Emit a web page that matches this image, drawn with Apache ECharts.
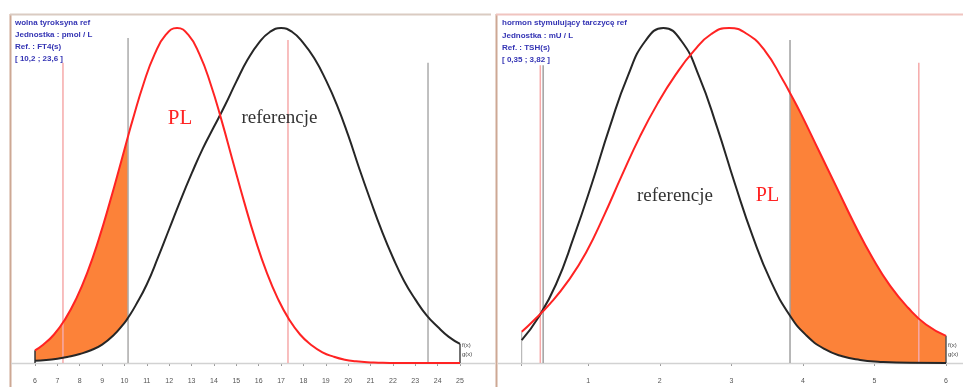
<!DOCTYPE html>
<html><head><meta charset="utf-8">
<script src="https://cdn.jsdelivr.net/npm/echarts@6/dist/echarts.min.js"></script>
<style>html,body{margin:0;padding:0;background:#fff}#c{width:963px;height:387px}</style>
</head><body><div id="c"></div>
<script>
// ---------- left panel: wolna tyroksyna (fT4) ----------
const fT4RefX = [6, 6.5, 7, 7.5, 8, 8.5, 9, 9.5, 10, 10.16, 10.5, 11, 11.5, 12, 12.5, 13, 13.5, 14, 14.5, 15, 15.5, 16, 16.5, 17, 17.5, 18, 18.5, 19, 19.5, 20, 20.5, 21, 21.5, 22, 22.5, 23, 23.5, 24, 24.5, 25];
const fT4Ref  = [0.7, 0.9, 1.3, 1.9, 2.7, 3.8, 5.5, 8.2, 12.0, 13.5, 17.2, 23.5, 31.5, 40, 48.5, 56.5, 64, 70.5, 77, 84, 90.5, 95.5, 98.8, 100, 98.8, 95.5, 90.8, 84.5, 77, 68, 58, 48.5, 39.5, 31.5, 24.5, 19, 14.3, 10.8, 7.8, 5.7];
const fT4PLX  = [6, 6.35, 6.85, 7.35, 7.85, 8.35, 8.85, 9.35, 9.85, 10.16, 10.35, 10.85, 11.35, 11.85, 12.35, 12.85, 13.35, 13.85, 14.35, 14.85, 15.35, 15.85, 16.35, 16.85, 17.35, 17.85, 18.35, 18.85, 19.35, 19.85, 20.35, 20.85, 21.35, 21.85, 22.35, 23.5, 25];
const fT4PL   = [3.8, 5.4, 8.5, 13.1, 19.3, 27.2, 36.9, 48.1, 60.1, 67.7, 72.2, 83.3, 92.2, 98.0, 100, 98.0, 92.2, 83.3, 72.2, 60.1, 48.1, 36.9, 27.2, 19.3, 13.1, 8.5, 5.4, 3.2, 1.9, 1.0, 0.5, 0.2, 0.1, 0, 0, 0, 0];
const fT4Range = [6, 25];
const fT4RefLimits = [10.16, 23.57];
const fT4RefLimitTops = [97, 89.6];
const fT4PLLimits = [7.25, 17.31];
const fT4PLLimitTops = [89.6, 96.4];
const fT4ShadeTo = 10.16;
const fT4Info = ['wolna tyroksyna ref', 'Jednostka : pmol / L', 'Ref. : FT4(s)', '[ 10,2 ; 23,6 ]'];

// ---------- right panel: TSH ----------
const tshRefX = [0.07, 0.3, 0.55, 0.8, 1.05, 1.3, 1.55, 1.8, 2.05, 2.3, 2.55, 2.8, 3.05, 3.3, 3.55, 3.82, 4.05, 4.3, 4.55, 4.8, 5.05, 5.5, 6];
const tshRef  = [6.8, 13.5, 23.5, 37.7, 53.5, 70.4, 85.5, 96.2, 100, 96.2, 85.5, 70.4, 53.5, 37.7, 24.5, 14.1, 8.2, 4.2, 2.0, 0.9, 0.4, 0.05, 0];
const tshPLX  = [0.07, 0.22, 0.47, 0.72, 0.97, 1.22, 1.47, 1.72, 1.97, 2.22, 2.47, 2.72, 2.97, 3.22, 3.47, 3.72, 3.82, 3.97, 4.22, 4.47, 4.72, 4.97, 5.22, 5.47, 5.72, 6];
const tshPL   = [9.3, 12.3, 17.8, 24.5, 33, 44, 56, 67.5, 77.5, 86, 93, 98.2, 100, 98.2, 93.2, 84.5, 80.6, 74.5, 63.5, 52.5, 41.5, 31.5, 23, 16.5, 11.5, 8.1];
const tshRange = [0.07, 6];
const tshTickValues  = [0.07, 1, 2, 3, 4, 5, 6];
const tshLabelValues = [1, 2, 3, 4, 5, 6];
const tshRefLimits = [0.37, 3.82];
const tshRefLimitTops = [88.9, 96.4];
const tshPLLimits = [0.33, 5.62];
const tshPLLimitTops = [88.9, 89.6];
const tshShadeFrom = 3.82;
const tshInfo = ['hormon stymulujący tarczycę ref', 'Jednostka : mU / L', 'Ref. : TSH(s)', '[ 0,35 ; 3,82 ]'];

const legendNames = ['PL', 'referencje'];
const endLabels = ['f(x)', 'g(x)'];

// ---------- helpers ----------
const RED = '#ff2323', BLACK = '#262626', ORANGE = '#fc8239', GRAY = '#ababab', PINK = '#f6a9a9';
const SMOOTH = 0.5;
function pts(xs, ys, keep) { return xs.map((x, i) => [x, ys[i]]).filter(p => !keep || keep(p[0])); }
function curve(ax, data, color, width, z) {
  return { type: 'line', xAxisIndex: ax, yAxisIndex: ax, data, smooth: SMOOTH, symbol: 'none',
    lineStyle: { color, width }, z, silent: true, clip: false };
}
function area(ax, data, color, z) {
  return { type: 'line', xAxisIndex: ax, yAxisIndex: ax, data, smooth: SMOOTH, symbol: 'none',
    lineStyle: { width: 0, opacity: 0 }, areaStyle: { color, opacity: 1 }, z, silent: true };
}
function vline(ax, x, top, color, width, z) {
  return { type: 'line', xAxisIndex: ax, yAxisIndex: ax, data: [[x, 0], [x, top]], symbol: 'none',
    lineStyle: { color, width }, z, silent: true, clip: false };
}
const last = a => a[a.length - 1];

const series = [];
// left panel
series.push(area(0, pts(fT4PLX, fT4PL, x => x <= fT4ShadeTo), ORANGE, 1));
series.push(area(0, pts(fT4RefX, fT4Ref, x => x <= fT4ShadeTo), '#ffffff', 2));
fT4RefLimits.forEach((x, i) => series.push(vline(0, x, fT4RefLimitTops[i], GRAY, 1.5, 3)));
fT4PLLimits.forEach((x, i) => series.push(vline(0, x, fT4PLLimitTops[i], PINK, 1.5, 3)));
series.push(vline(0, fT4Range[0], Math.max(fT4PL[0], fT4Ref[0]), '#333', 1.5, 3));
series.push(vline(0, fT4Range[1], Math.max(last(fT4PL), last(fT4Ref)), '#444', 1.5, 3));
series.push(curve(0, pts(fT4RefX, fT4Ref), BLACK, 2, 5));
series.push(curve(0, pts(fT4PLX, fT4PL), RED, 2, 6));
// right panel
series.push(area(1, pts(tshPLX, tshPL, x => x >= tshShadeFrom), ORANGE, 1));
series.push(area(1, pts(tshRefX, tshRef, x => x >= tshShadeFrom), '#ffffff', 2));
tshRefLimits.forEach((x, i) => series.push(vline(1, x, tshRefLimitTops[i], '#a0a0a0', 1.5, 3)));
tshPLLimits.forEach((x, i) => series.push(vline(1, x, tshPLLimitTops[i], PINK, 1.5, 3)));
series.push(vline(1, tshRange[0], Math.max(tshPL[0], tshRef[0]), '#aaa', 1, 3));
series.push(vline(1, tshRange[1], Math.max(last(tshPL), last(tshRef)), '#555', 1.5, 3));
series.push(curve(1, pts(tshRefX, tshRef), BLACK, 2, 5));
series.push(curve(1, pts(tshPLX, tshPL), RED, 2, 6));

const axisLabelStyle = { color: '#555', fontSize: 7, fontFamily: 'Liberation Sans', margin: 9 };
const tickStyle = { show: true, length: 3, lineStyle: { color: '#9a9a9a', width: 1 } };

const chart = echarts.init(document.getElementById('c'), null, { renderer: 'canvas' });
chart.setOption({
  animation: false,
  backgroundColor: '#ffffff',
  grid: [
    { left: 35, top: 28, width: 425, height: 335, containLabel: false },
    { left: 521.7, top: 28, width: 424.3, height: 335, containLabel: false }
  ],
  xAxis: [
    { gridIndex: 0, type: 'value', min: fT4Range[0], max: fT4Range[1], interval: 1, offset: 6,
      axisLine: { show: false }, axisTick: tickStyle, splitLine: { show: false },
      axisLabel: axisLabelStyle },
    { gridIndex: 1, type: 'value', min: tshRange[0], max: tshRange[1], offset: 6,
      axisLine: { show: false }, splitLine: { show: false },
      axisTick: Object.assign({}, tickStyle, { customValues: tshTickValues }),
      axisLabel: Object.assign({}, axisLabelStyle, { customValues: tshLabelValues }) }
  ],
  yAxis: [
    { gridIndex: 0, type: 'value', min: 0, max: 100, show: false },
    { gridIndex: 1, type: 'value', min: 0, max: 100, show: false }
  ],
  series,
  graphic: [
    { type: 'line', shape: { x1: 10.5, y1: 14, x2: 10.5, y2: 387 }, style: { stroke: '#cda894', lineWidth: 2 }, z: 0 },
    { type: 'line', shape: { x1: 10, y1: 14.5, x2: 491, y2: 14.5 }, style: { stroke: '#dacbc2', lineWidth: 2 }, z: 0 },
    { type: 'line', shape: { x1: 496.5, y1: 14, x2: 496.5, y2: 387 }, style: { stroke: '#cda894', lineWidth: 2 }, z: 0 },
    { type: 'line', shape: { x1: 496, y1: 14.5, x2: 963, y2: 14.5 }, style: { stroke: '#f0c4bf', lineWidth: 2 }, z: 0 },
    { type: 'line', shape: { x1: 11, y1: 363.5, x2: 495, y2: 363.5 }, style: { stroke: '#d2d2d2', lineWidth: 1.5 }, z: 3 },
    { type: 'line', shape: { x1: 498, y1: 363.5, x2: 963, y2: 363.5 }, style: { stroke: '#d2d2d2', lineWidth: 1.5 }, z: 3 },
    { type: 'text', x: 15, y: 17, style: { text: fT4Info.join('\n'), fill: '#3434b4', font: 'bold 8px "Liberation Sans"', lineHeight: 12 }, z: 10 },
    { type: 'text', x: 502, y: 17, style: { text: tshInfo.join('\n'), fill: '#3434b4', font: 'bold 8px "Liberation Sans"', lineHeight: 12.3 }, z: 10 },
    { type: 'text', x: 180, y: 118, style: { text: legendNames[0], fill: RED, font: '21px "Liberation Serif"', align: 'center', verticalAlign: 'middle' }, z: 10 },
    { type: 'text', x: 279.5, y: 118, style: { text: legendNames[1], fill: '#333', font: '19px "Liberation Serif"', align: 'center', verticalAlign: 'middle' }, z: 10 },
    { type: 'text', x: 675, y: 196, style: { text: legendNames[1], fill: '#333', font: '19px "Liberation Serif"', align: 'center', verticalAlign: 'middle' }, z: 10 },
    { type: 'text', x: 767.5, y: 196, style: { text: legendNames[0], fill: RED, font: '20px "Liberation Serif"', align: 'center', verticalAlign: 'middle' }, z: 10 },
    { type: 'text', x: 462, y: 341, style: { text: endLabels.join('\n'), fill: '#444', font: '6px "Liberation Sans"', lineHeight: 9 }, z: 10 },
    { type: 'text', x: 948, y: 341, style: { text: endLabels.join('\n'), fill: '#444', font: '6px "Liberation Sans"', lineHeight: 9 }, z: 10 }
  ]
});
</script></body></html>
